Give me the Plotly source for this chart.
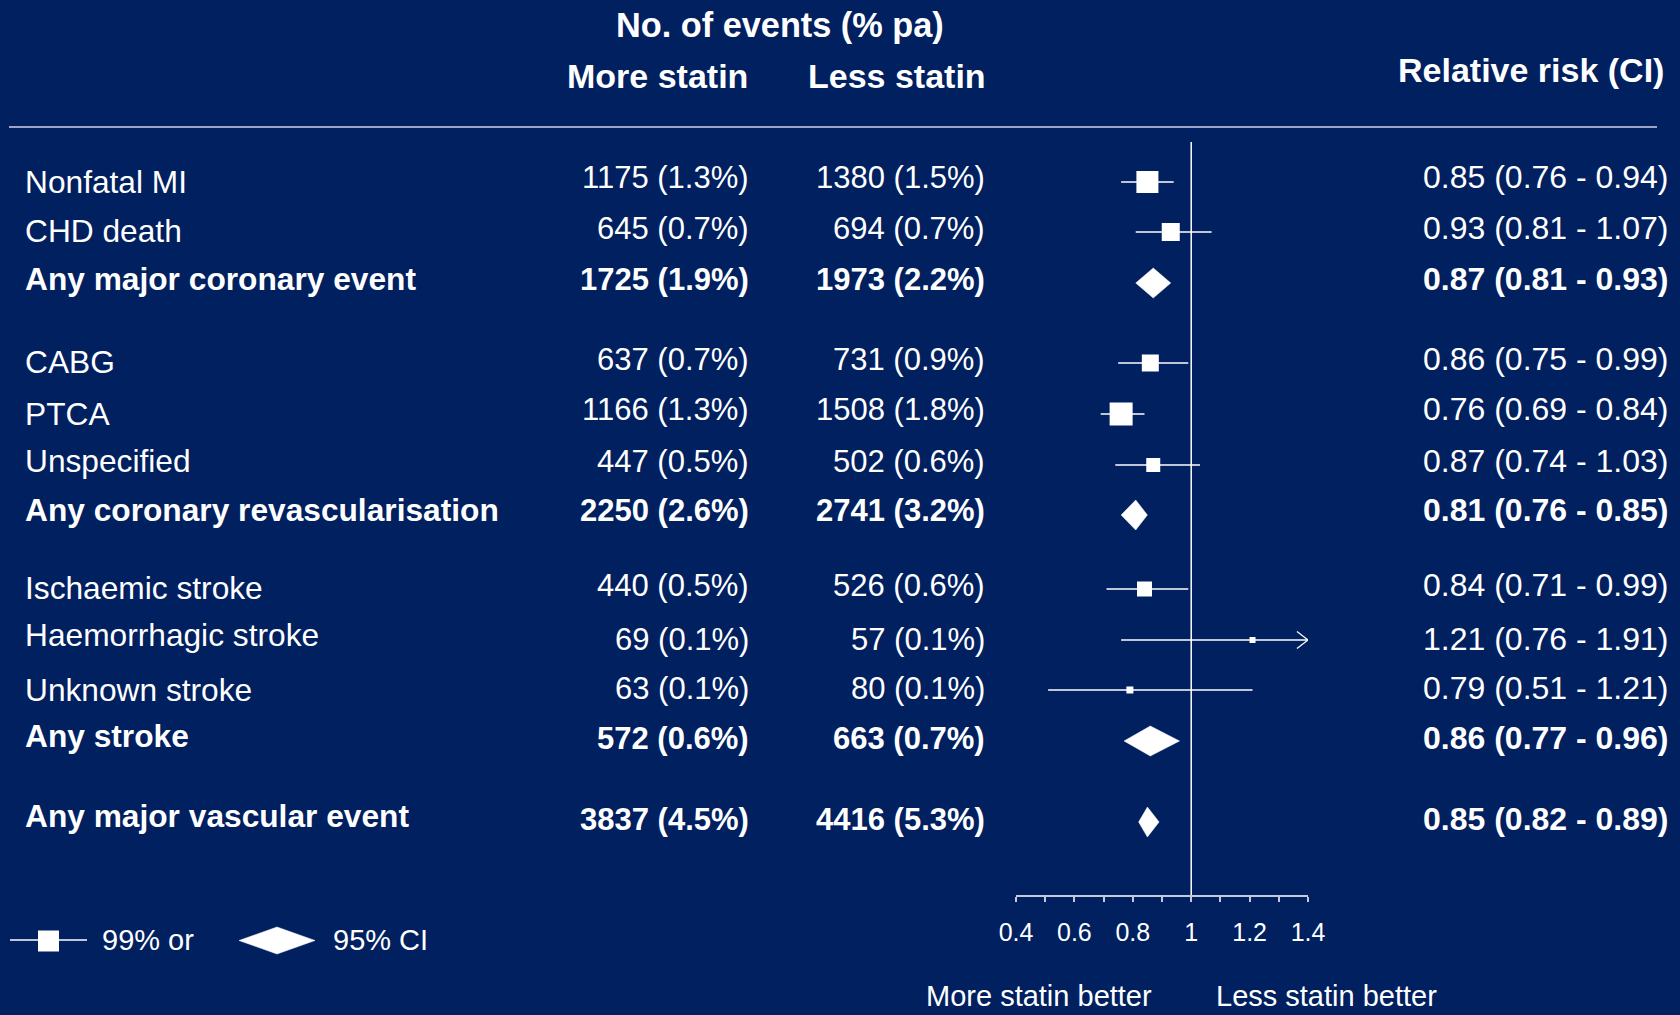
import plotly.graph_objects as go

W, H = 1680, 1015
BG = "#002060"
FG = "#ffffff"
GREY = "#c3c8da"
FONT = "Liberation Sans, Arial, sans-serif"

# ---------------- data ----------------
labels = ["Nonfatal MI", "CHD death", "Any major coronary event",
          "CABG", "PTCA", "Unspecified", "Any coronary revascularisation",
          "Ischaemic stroke", "Haemorrhagic stroke", "Unknown stroke", "Any stroke",
          "Any major vascular event"]
is_total = [False, False, True, False, False, False, True, False, False, False, True, True]
more_n = [1175, 645, 1725, 637, 1166, 447, 2250, 440, 69, 63, 572, 3837]
more_pct = [1.3, 0.7, 1.9, 0.7, 1.3, 0.5, 2.6, 0.5, 0.1, 0.1, 0.6, 4.5]
less_n = [1380, 694, 1973, 731, 1508, 502, 2741, 526, 57, 80, 663, 4416]
less_pct = [1.5, 0.7, 2.2, 0.9, 1.8, 0.6, 3.2, 0.6, 0.1, 0.1, 0.7, 5.3]
rr = [0.85, 0.93, 0.87, 0.86, 0.76, 0.87, 0.81, 0.84, 1.21, 0.79, 0.86, 0.85]
rr_lo = [0.76, 0.81, 0.81, 0.75, 0.69, 0.74, 0.76, 0.71, 0.76, 0.51, 0.77, 0.82]
rr_hi = [0.94, 1.07, 0.93, 0.99, 0.84, 1.03, 0.85, 0.99, 1.91, 1.21, 0.96, 0.89]
tick_vals = [0.4, 0.5, 0.6, 0.7, 0.8, 0.9, 1.0, 1.1, 1.2, 1.3, 1.4]
tick_text = ["0.4", "", "0.6", "", "0.8", "", "1", "", "1.2", "", "1.4"]

# ---------------- layout (pixel positions / styles) ----------------
label_y = [182, 231, 279, 362, 414, 461, 510, 588, 635, 690, 736, 816]
value_y = [177, 228, 279, 359, 409, 461, 510, 585, 639, 688, 738, 819]
mark_y = [182, 232, 283, 363, 414, 465, 515, 589, 640, 690, 741, 822]
box_size = [22, 18, 0, 17, 23, 14, 0, 15, 6, 7, 0, 0]
DIAMOND_H = 30
X_MIN, X_MAX = 0.4, 1.4
AX_L, AX_R = 1016, 1308          # pixel extent of the forest axis
AX_Y = 895                       # pixel y of the forest axis line
PX_PER_UNIT = (AX_R - AX_L) / (X_MAX - X_MIN)

fig = go.Figure()

# CI lines for individual outcomes
cx, cy = [], []
for i in range(len(labels)):
    if not is_total[i]:
        cx += [rr_lo[i], min(rr_hi[i], X_MAX), None]
        cy += [mark_y[i], mark_y[i], None]
fig.add_trace(go.Scatter(x=cx, y=cy, mode="lines", line=dict(color=FG, width=1.5),
                         cliponaxis=False, hoverinfo="skip"))

# arrow heads for clipped CIs
for i in range(len(labels)):
    if not is_total[i] and rr_hi[i] > X_MAX:
        dx = 11 / PX_PER_UNIT
        fig.add_trace(go.Scatter(x=[X_MAX - dx, X_MAX, X_MAX - dx],
                                 y=[mark_y[i] - 8.5, mark_y[i], mark_y[i] + 8.5],
                                 mode="lines", line=dict(color=FG, width=1.3),
                                 cliponaxis=False, hoverinfo="skip"))

# squares
sq = [i for i in range(len(labels)) if not is_total[i]]
fig.add_trace(go.Scatter(x=[rr[i] for i in sq], y=[mark_y[i] for i in sq], mode="markers",
                         marker=dict(symbol="square", color=FG, opacity=1,
                                     size=[box_size[i] for i in sq], line=dict(width=0)),
                         cliponaxis=False, hoverinfo="skip"))

# diamonds for totals
for i in range(len(labels)):
    if is_total[i]:
        h = DIAMOND_H / 2
        fig.add_trace(go.Scatter(x=[rr_lo[i], rr[i], rr_hi[i], rr[i], rr_lo[i]],
                                 y=[mark_y[i], mark_y[i] - h, mark_y[i], mark_y[i] + h, mark_y[i]],
                                 mode="lines", fill="toself", fillcolor=FG,
                                 line=dict(color=FG, width=0.5),
                                 cliponaxis=False, hoverinfo="skip"))

# legend items (full-page pixel coordinates on x2/y2)
fig.add_trace(go.Scatter(x=[10, 87], y=[940, 940], xaxis="x2", yaxis="y2", mode="lines",
                         line=dict(color=FG, width=1.5), hoverinfo="skip"))
fig.add_trace(go.Scatter(x=[48.5], y=[941], xaxis="x2", yaxis="y2", mode="markers",
                         marker=dict(symbol="square", size=21, color=FG, opacity=1,
                                     line=dict(width=0)),
                         hoverinfo="skip"))
fig.add_trace(go.Scatter(x=[239, 277, 315, 277, 239], y=[940.5, 927, 940.5, 954, 940.5],
                         xaxis="x2", yaxis="y2", mode="lines", fill="toself", fillcolor=FG,
                         line=dict(color=FG, width=0.5), hoverinfo="skip"))

# reference line at RR = 1
fig.add_shape(type="line", xref="x", yref="y", x0=1, x1=1, y0=142, y1=AX_Y,
              line=dict(color=FG, width=1.5))
# header rule
fig.add_shape(type="line", xref="paper", yref="y2", x0=9 / W, x1=1657 / W, y0=127, y1=127,
              line=dict(color="#9ca5c8", width=2))

ann = []


def text(x, y, s, size, anchor="left", bold=False):
    ann.append(dict(x=x / W, y=y, xref="paper", yref="y2", text=f"<b>{s}</b>" if bold else s,
                    showarrow=False, xanchor=anchor, yanchor="middle",
                    font=dict(family=FONT, size=size, color=FG)))


# headers
text(779.5, 25, "No. of events (% pa)", 34.3, "center", True)
text(657, 76, "More statin", 34, "center", True)
text(897, 76, "Less statin", 34, "center", True)
text(1666, 70, "Relative risk (CI)", 34, "right", True)

for i in range(len(labels)):
    b = is_total[i]
    text(22.5, label_y[i], labels[i], 31.7, "left", b)
    text(751, value_y[i], f"{more_n[i]} ({more_pct[i]:.1f}%)", 31, "right", b)
    text(987, value_y[i], f"{less_n[i]} ({less_pct[i]:.1f}%)", 31, "right", b)
    text(1670, value_y[i], f"{rr[i]:.2f} ({rr_lo[i]:.2f} - {rr_hi[i]:.2f})", 32, "right", b)

# legend text
text(100, 940, "99% or", 29, "left")
text(331, 940, "95% CI", 29, "left")

# favours labels
text(1039, 996, "More statin better", 29, "center")
text(1326.5, 996, "Less statin better", 29, "center")

fig.update_layout(
    width=W, height=H, margin=dict(l=0, r=0, t=0, b=0, pad=0, autoexpand=False),
    paper_bgcolor=BG, plot_bgcolor="rgba(0,0,0,0)", showlegend=False,
    annotations=ann,
    xaxis=dict(domain=[AX_L / W, AX_R / W], range=[X_MIN, X_MAX], anchor="y",
               showgrid=False, zeroline=False, automargin=False,
               showline=True, linecolor=GREY, linewidth=1.5,
               ticks="outside", ticklen=5, tickwidth=1.5, tickcolor=GREY,
               tickvals=tick_vals, ticktext=tick_text, ticklabelstandoff=9,
               tickfont=dict(family=FONT, size=25, color=FG), fixedrange=True),
    yaxis=dict(domain=[(H - AX_Y) / H, 1], range=[AX_Y, 0], anchor="x", visible=False,
               automargin=False, fixedrange=True),
    xaxis2=dict(domain=[0, 1], range=[0, W], anchor="y2", visible=False,
                automargin=False, fixedrange=True),
    yaxis2=dict(domain=[0, 1], range=[H, 0], anchor="x2", visible=False,
                automargin=False, fixedrange=True),
)

fig.write_html("out.html", config={"displayModeBar": False},
               post_script="document.body.style.margin='0';document.body.style.background='" + BG + "';")
